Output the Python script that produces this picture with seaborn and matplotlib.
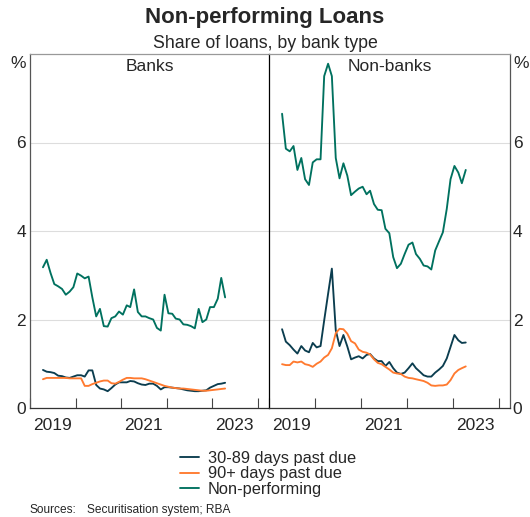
import pandas as pd
import seaborn as sns
import matplotlib.pyplot as plt
import matplotlib.dates as mdates
from matplotlib.ticker import NullFormatter

# Monthly observations, Apr 2019 - Apr 2023 (mid-month positions)
months = pd.date_range('2019-04-01', periods=49, freq='MS') + pd.Timedelta(days=14)

series_names = ['30-89 days past due', '90+ days past due', 'Non-performing']
colours = ['#0b3d4f', '#ff7a2f', '#00715f']

# Banks, per cent of loans
banks_30_89 = [0.86, 0.82, 0.81, 0.79, 0.73, 0.72, 0.69, 0.68, 0.71, 0.74,
               0.74, 0.71, 0.85, 0.85, 0.52, 0.44, 0.42, 0.38, 0.45, 0.53,
               0.58, 0.58, 0.58, 0.61, 0.60, 0.56, 0.53, 0.52, 0.55, 0.55,
               0.50, 0.42, 0.47, 0.47, 0.46, 0.45, 0.44, 0.42, 0.40, 0.39,
               0.38, 0.38, 0.39, 0.40, 0.46, 0.50, 0.54, 0.55, 0.57]
banks_90 = [0.65, 0.68, 0.68, 0.68, 0.68, 0.68, 0.68, 0.67, 0.67, 0.67,
            0.67, 0.50, 0.50, 0.54, 0.57, 0.60, 0.62, 0.62, 0.56, 0.55,
            0.59, 0.64, 0.68, 0.68, 0.67, 0.67, 0.67, 0.65, 0.62, 0.59,
            0.56, 0.53, 0.50, 0.48, 0.46, 0.45, 0.44, 0.44, 0.43, 0.42,
            0.41, 0.40, 0.39, 0.39, 0.40, 0.41, 0.42, 0.43, 0.44]
banks_np = [3.18, 3.35, 3.05, 2.80, 2.75, 2.69, 2.56, 2.63, 2.73, 3.04,
            2.99, 2.93, 2.97, 2.50, 2.07, 2.24, 1.85, 1.84, 2.03, 2.07,
            2.18, 2.11, 2.32, 2.28, 2.68, 2.17, 2.07, 2.07, 2.03, 2.00,
            1.81, 1.75, 2.56, 2.14, 2.13, 2.02, 2.00, 1.89, 1.88, 1.85,
            1.80, 2.24, 1.94, 2.00, 2.28, 2.28, 2.47, 2.94, 2.50]

# Non-banks, per cent of loans
nonbanks_30_89 = [1.78, 1.50, 1.42, 1.32, 1.23, 1.40, 1.30, 1.26, 1.47, 1.37,
                  1.40, 1.98, 2.58, 3.15, 1.76, 1.40, 1.65, 1.39, 1.10, 1.14,
                  1.17, 1.12, 1.20, 1.22, 1.12, 1.06, 1.06, 0.95, 1.04, 0.90,
                  0.80, 0.77, 0.80, 0.90, 1.01, 0.90, 0.82, 0.74, 0.71, 0.71,
                  0.80, 0.87, 0.95, 1.12, 1.38, 1.65, 1.53, 1.47, 1.48]
nonbanks_90 = [0.99, 0.97, 0.97, 1.05, 1.03, 1.05, 0.99, 0.97, 0.93, 1.00,
               1.05, 1.14, 1.20, 1.35, 1.69, 1.79, 1.78, 1.68, 1.51, 1.46,
               1.32, 1.27, 1.25, 1.21, 1.10, 1.02, 0.99, 0.93, 0.87, 0.80,
               0.78, 0.77, 0.71, 0.68, 0.67, 0.65, 0.63, 0.61, 0.57, 0.51,
               0.50, 0.51, 0.51, 0.53, 0.63, 0.78, 0.86, 0.90, 0.94]
nonbanks_np = [6.65, 5.86, 5.80, 5.92, 5.38, 5.65, 5.17, 5.04, 5.55, 5.62,
               5.62, 7.50, 7.78, 7.50, 5.65, 5.19, 5.53, 5.25, 4.81, 4.89,
               4.96, 5.00, 4.83, 4.91, 4.61, 4.48, 4.47, 4.05, 3.95, 3.41,
               3.16, 3.26, 3.48, 3.69, 3.74, 3.48, 3.37, 3.22, 3.20, 3.13,
               3.56, 3.77, 3.97, 4.50, 5.17, 5.47, 5.32, 5.08, 5.38]


def to_long(panel, cols):
    frames = [pd.DataFrame({'date': months, 'value': vals, 'series': name, 'panel': panel})
              for name, vals in zip(series_names, cols)]
    return pd.concat(frames, ignore_index=True)


df = pd.concat([to_long('Banks', [banks_30_89, banks_90, banks_np]),
                to_long('Non-banks', [nonbanks_30_89, nonbanks_90, nonbanks_np])],
               ignore_index=True)

sns.set_theme(style='white')
plt.rcParams['font.family'] = ['Liberation Sans', 'DejaVu Sans']

W, H = 530, 517
fig = plt.figure(figsize=(W / 100, H / 100), dpi=100)
ax1 = fig.add_axes([30 / W, 1 - 408 / H, 239 / W, 354 / H])
ax2 = fig.add_axes([269 / W, 1 - 408 / H, 241 / W, 354 / H])

palette = dict(zip(series_names, colours))
for ax, panel in [(ax1, 'Banks'), (ax2, 'Non-banks')]:
    sns.lineplot(data=df[df['panel'] == panel], x='date', y='value', hue='series',
                 palette=palette, linewidth=1.35, ax=ax, legend=(ax is ax1))
    ax.set_xlabel('')
    ax.set_ylabel('')
    ax.set_ylim(0, 8)
    ax.set_yticks([0, 2, 4, 6])
    ax.grid(axis='y', color='#dddddd', linewidth=0.8)
    ax.set_xlim(pd.Timestamp('2019-01-01'), pd.Timestamp('2024-04-01'))
    ax.xaxis.set_major_locator(mdates.YearLocator())
    ax.xaxis.set_major_formatter(NullFormatter())
    ax.set_xticks([pd.Timestamp(f'{y}-07-01') for y in (2019, 2021, 2023)], minor=True)
    ax.set_xticklabels(['2019', '2021', '2023'], minor=True)
    ax.tick_params(axis='x', which='major', direction='in', length=7, width=0.8,
                   color='#444444', bottom=True)
    ax.tick_params(axis='x', which='minor', length=0, pad=7, labelsize=12.5)
    ax.tick_params(axis='y', length=0, labelsize=12.5, pad=3)
    ax.text(0.5, 0.985, panel, transform=ax.transAxes, ha='center', va='top', fontsize=12.5)
    for side in ['top', 'bottom', 'left', 'right']:
        ax.spines[side].set_visible(True)
        ax.spines[side].set_linewidth(0.9)
    ax.spines['top'].set_color('#999999')
    ax.spines['bottom'].set_color('#333333')

ax1.spines['left'].set_color('#555555')
ax1.spines['right'].set_visible(False)
ax2.spines['left'].set_color('#000000')
ax2.spines['right'].set_color('#555555')
ax2.yaxis.tick_right()
ax2.tick_params(axis='y', length=0, labelsize=12.5, pad=2)

ax1.text(-0.017, 0.995, '%', transform=ax1.transAxes, ha='right', va='top', fontsize=12.5)
ax2.text(1.012, 0.995, '%', transform=ax2.transAxes, ha='left', va='top', fontsize=12.5)

handles, labels = ax1.get_legend_handles_labels()
ax1.get_legend().remove()
fig.legend(handles, labels, loc='upper center', bbox_to_anchor=(0.505, 1 - 451 / H),
           frameon=False, fontsize=11.8, handlelength=1.2, handletextpad=0.5,
           labelspacing=0.02, borderaxespad=0, borderpad=0)

fig.text(0.5, 1 - 18 / H, 'Non-performing Loans', ha='center', va='center',
         fontsize=16, fontweight='bold')
fig.text(0.5, 1 - 43 / H, 'Share of loans, by bank type', ha='center', va='center', fontsize=12.8)
fig.text(30 / W, 1 - 510 / H, 'Sources:', ha='left', va='center', fontsize=8.6)
fig.text(87 / W, 1 - 510 / H, 'Securitisation system; RBA', ha='left', va='center', fontsize=8.6)

fig.savefig('out.png', dpi=100)
